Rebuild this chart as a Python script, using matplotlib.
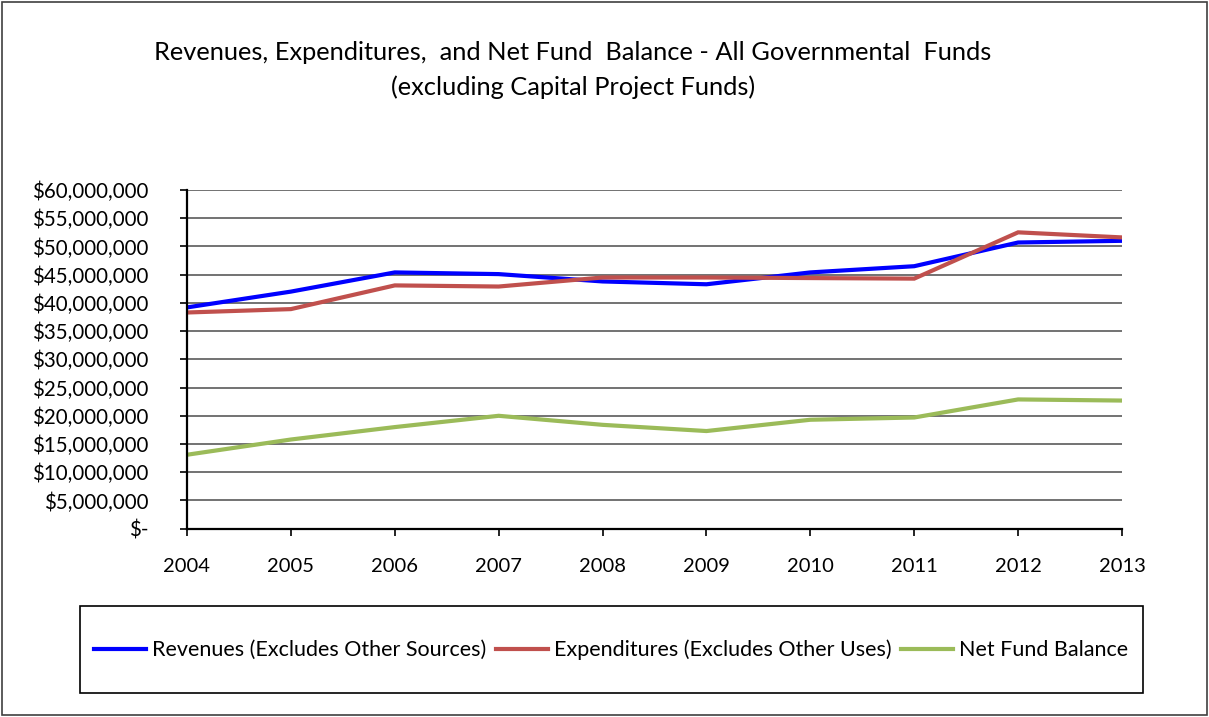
import matplotlib
matplotlib.use("Agg")
import matplotlib.pyplot as plt
from matplotlib.patches import Rectangle
from matplotlib.ticker import FuncFormatter, MultipleLocator

years = ["2004", "2005", "2006", "2007", "2008", "2009", "2010", "2011", "2012", "2013"]
revenues = [39.2, 42.0, 45.4, 45.1, 43.8, 43.3, 45.4, 46.5, 50.7, 51.0]
expenditures = [38.3, 38.9, 43.1, 42.9, 44.5, 44.5, 44.4, 44.3, 52.5, 51.6]
net_fund = [13.1, 15.8, 18.0, 20.0, 18.4, 17.3, 19.3, 19.7, 22.9, 22.7]
series_names = ["Revenues (Excludes Other Sources)",
                "Expenditures (Excludes Other Uses)",
                "Net Fund Balance"]
colors = ["#0000FF", "#C0504D", "#9BBB59"]

plt.rcParams['font.family'] = ['Lato', 'DejaVu Sans']

W, H = 1209, 717
fig = plt.figure(figsize=(W / 100, H / 100), dpi=100)

left, right, top, bottom = 187, 1122, 190, 528.7
ax = fig.add_axes([left / W, 1 - bottom / H, (right - left) / W, (bottom - top) / H])

x = list(range(len(years)))
M = 1e6
for vals, name, c in zip([revenues, expenditures, net_fund], series_names, colors):
    ax.plot(x, [v * M for v in vals], color=c, lw=3.0, label=name, solid_joinstyle='miter')

ax.set_xlim(0, len(years) - 1)
ax.set_ylim(0, 60e6)
ax.yaxis.set_major_locator(MultipleLocator(5e6))
ax.yaxis.set_major_formatter(FuncFormatter(lambda v, p: "$-" if v == 0 else "${:,.0f}".format(v)))
ax.set_xticks(x)
ax.set_xticklabels(years)
ax.grid(axis='y', color='#5a5a5a', lw=1.2)
ax.set_axisbelow(True)
for s in ['top', 'right']:
    ax.spines[s].set_visible(False)
ax.spines['left'].set_linewidth(1.6)
ax.spines['bottom'].set_linewidth(1.6)
ax.tick_params(axis='y', direction='out', length=5, width=1.2, labelsize=14.8, pad=23, colors='black')
ax.tick_params(axis='x', direction='out', length=5, width=1.2, labelsize=14.5, pad=16)

fig.text(573 / W, 1 - 52 / H, "Revenues, Expenditures,  and Net Fund  Balance - All Governmental  Funds",
         ha='center', va='center', fontsize=18.3)
fig.text(573 / W, 1 - 87 / H, "(excluding Capital Project Funds)",
         ha='center', va='center', fontsize=18.3)

# legend box
fig.patches.append(Rectangle((80 / W, 1 - 693 / H), (1143 - 80) / W, (693 - 606) / H,
                             transform=fig.transFigure, fill=False, ec='black', lw=1.2))
handles, labels = ax.get_legend_handles_labels()
fig.legend(handles, labels, loc='center', bbox_to_anchor=(611 / W, 1 - 650 / H), ncol=3,
           frameon=False, fontsize=15.5, handlelength=2.4, handletextpad=0.28, columnspacing=0.45)

# outer border
fig.patches.append(Rectangle((2 / W, 2 / H), (W - 4) / W, (H - 4) / H,
                             transform=fig.transFigure, fill=False, ec='#404040', lw=1.2))

fig.savefig("out.png", dpi=100, facecolor='white')
